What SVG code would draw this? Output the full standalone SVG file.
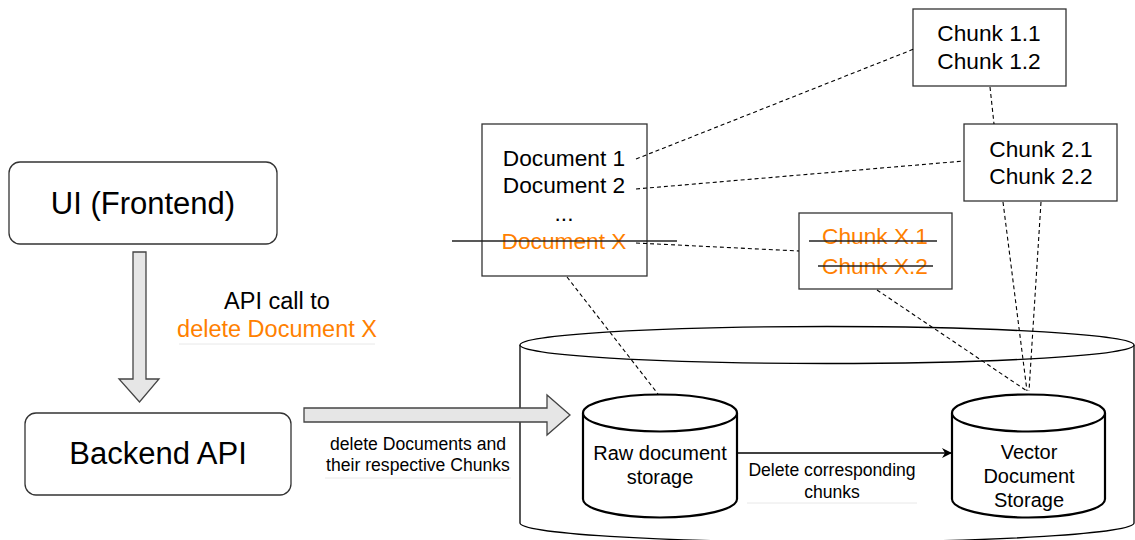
<svg xmlns="http://www.w3.org/2000/svg" width="1135" height="540" viewBox="0 0 1135 540">
  <style>
    .box { fill: #ffffff; stroke: #333333; stroke-width: 1.3; }
    .cyl { fill: #ffffff; stroke: #000000; stroke-width: 2.2; }
    .big { fill: #ffffff; stroke: #000000; stroke-width: 1.3; }
    .fat { fill: #e6e6e6; stroke: #444444; stroke-width: 1.3; }
    .dash { fill: none; stroke: #000000; stroke-width: 1.1; stroke-dasharray: 4 3; }
    .strike { stroke: #222222; stroke-width: 1.5; }
    .ul { stroke: #e8e8e8; stroke-width: 1; }
    text { font-family: "Liberation Sans", Arial, sans-serif; fill: #000000; text-anchor: middle; }
    .t31 { font-size: 31px; }
    .t23 { font-size: 23.5px; }
    .t22 { font-size: 22.7px; }
    .t20 { font-size: 20px; }
    .t17 { font-size: 17.6px; }
    .or { fill: #ff8000; }
  </style>
  <defs>
    <marker id="arrow" viewBox="0 0 10 10" refX="9" refY="5" markerWidth="10" markerHeight="10" markerUnits="userSpaceOnUse" orient="auto">
      <path d="M0,0 L10,5 L0,10 L3,5 Z" fill="#000000"/>
    </marker>
  </defs>

  <!-- enclosing storage cylinder -->
  <g id="storage-layer">
    <path class="big" d="M520,345 L520,523 A307,19 0 0 0 1134,523 L1134,345"/>
    <ellipse class="big" cx="827" cy="345" rx="307" ry="18.5"/>
  </g>

  <g id="ui-frontend">
    <rect class="box" x="9" y="162" width="268" height="82" rx="11"/>
    <text class="t31" x="143" y="214">UI (Frontend)</text>
  </g>

  <g id="backend-api">
    <rect class="box" x="25" y="413" width="266" height="82" rx="11"/>
    <text class="t31" x="158" y="464">Backend API</text>
  </g>

  <g id="documents">
    <rect class="box" x="482" y="124" width="165" height="152"/>
    <text class="t22" x="564" y="166">Document 1</text>
    <text class="t22" x="564" y="193">Document 2</text>
    <text class="t22" x="564" y="221">...</text>
    <text class="t22 or" x="564" y="249">Document X</text>
    <line class="strike" x1="452" y1="241" x2="677" y2="241"/>
  </g>

  <g id="chunks-1">
    <rect class="box" x="913" y="9" width="153" height="77"/>
    <text class="t22" x="989" y="41">Chunk 1.1</text>
    <text class="t22" x="989" y="69">Chunk 1.2</text>
  </g>

  <g id="chunks-2">
    <rect class="box" x="964" y="124" width="153" height="77"/>
    <text class="t22" x="1041" y="157">Chunk 2.1</text>
    <text class="t22" x="1041" y="184">Chunk 2.2</text>
  </g>

  <g id="chunks-x">
    <rect class="box" x="799" y="213" width="153" height="76"/>
    <text class="t22 or" x="875" y="244">Chunk X.1</text>
    <text class="t22 or" x="875" y="274">Chunk X.2</text>
    <line class="strike" x1="809" y1="241" x2="937" y2="241"/>
    <line class="strike" x1="818" y1="266" x2="933" y2="266"/>
  </g>

  <g id="raw-storage">
    <path class="cyl" d="M583,413 L583,499 A77,18.5 0 0 0 737,499 L737,413"/>
    <ellipse class="cyl" cx="660" cy="413" rx="77" ry="18.5"/>
    <text class="t20" x="660" y="460">Raw document</text>
    <text class="t20" x="660" y="484">storage</text>
  </g>

  <g id="vector-storage">
    <path class="cyl" d="M952,413 L952,499 A76.5,18.5 0 0 0 1105,499 L1105,413"/>
    <ellipse class="cyl" cx="1028.5" cy="413" rx="76.5" ry="18.5"/>
    <text class="t20" x="1029" y="459">Vector</text>
    <text class="t20" x="1029" y="483">Document</text>
    <text class="t20" x="1029" y="507">Storage</text>
  </g>

  <!-- connectors -->
  <g id="connectors">
    <line class="dash" x1="636" y1="159" x2="914" y2="49"/>
    <line class="dash" x1="636" y1="189" x2="964" y2="161"/>
    <line class="dash" x1="636" y1="243" x2="799" y2="251"/>
    <line class="dash" x1="567" y1="277" x2="658" y2="394"/>
    <line class="dash" x1="990" y1="87" x2="994" y2="124"/>
    <line class="dash" x1="877" y1="290" x2="1027" y2="391"/>
    <line class="dash" x1="1003" y1="202" x2="1027" y2="391"/>
    <line class="dash" x1="1041" y1="202" x2="1029" y2="391"/>
    <!-- fat arrows -->
    <path class="fat" d="M133,252 L146,252 L146,379 L159,379 L139.5,402 L119,379 L133,379 Z"/>
    <path class="fat" d="M304,408 L547,408 L547,395 L570,415 L547,435 L547,422 L304,422 Z"/>
    <!-- raw to vector -->
    <line x1="737" y1="453" x2="951" y2="453" stroke="#000000" stroke-width="1.3" marker-end="url(#arrow)"/>
    <!-- connector labels -->
    <text class="t23" x="277" y="309">API call to</text>
    <text class="t23 or" x="277" y="337">delete Document X</text>
    <line class="ul" x1="179" y1="344" x2="375" y2="344"/>
    <text class="t17" x="418" y="450">delete Documents and</text>
    <text class="t17" x="418" y="471">their respective Chunks</text>
    <line class="ul" x1="325" y1="478" x2="511" y2="478"/>
    <text class="t17" x="832" y="476">Delete corresponding</text>
    <text class="t17" x="832" y="498">chunks</text>
    <line class="ul" x1="747" y1="503" x2="917" y2="503"/>
  </g>
</svg>
